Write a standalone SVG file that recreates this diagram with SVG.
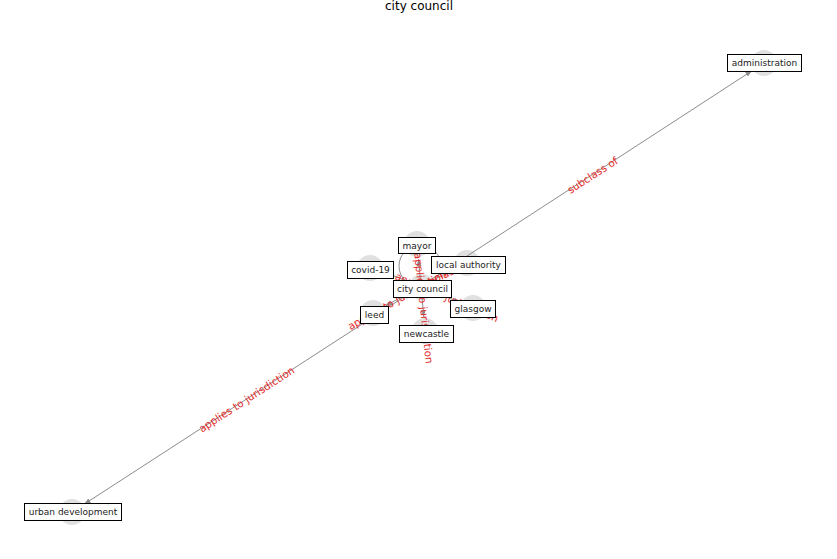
<svg xmlns="http://www.w3.org/2000/svg" width="837" height="559" viewBox="0 0 837 559">
  <style>
    .edge { stroke: #8c8c8c; stroke-width: 1; fill: none; }
    .elabel { font-family: "DejaVu Sans", sans-serif; font-size: 10.4px; fill: #e32b2b; text-anchor: middle; dominant-baseline: central; }
    .dot { fill: #e0e0e0; }
    .box { fill: #ffffff; stroke: #000000; stroke-width: 1; }
    .nlabel { font-family: "DejaVu Sans", sans-serif; font-size: 9px; fill: #222222; text-anchor: middle; dominant-baseline: central; }
    .title { font-family: "DejaVu Sans", sans-serif; font-size: 12px; fill: #000000; text-anchor: middle; }
  </style>
  <defs>
    <marker id="arrow" markerUnits="userSpaceOnUse" markerWidth="8" markerHeight="6" refX="7" refY="3" orient="auto">
      <path d="M0,0.5 L7,3 L0,5.5 z" fill="#8c8c8c"/>
    </marker>
  </defs>

  <rect width="837" height="559" fill="#ffffff"/>
  <text class="title" x="419" y="10">city council</text>

  <!-- node markers -->
  <g id="node-dots">
    <circle class="dot" cx="764" cy="63" r="13"/>
    <circle class="dot" cx="72" cy="512" r="13"/>
    <circle class="dot" cx="422" cy="287" r="13"/>
    <circle class="dot" cx="417" cy="244" r="13"/>
    <circle class="dot" cx="467" cy="263" r="13"/>
    <circle class="dot" cx="370" cy="268" r="13"/>
    <circle class="dot" cx="373" cy="313" r="13"/>
    <circle class="dot" cx="473" cy="308" r="13"/>
    <circle class="dot" cx="425" cy="331" r="13"/>
  </g>

  <!-- connectors -->
  <g id="edges">
    <line class="edge" x1="421" y1="286" x2="752.3" y2="70.6" marker-end="url(#arrow)"/>
    <line class="edge" x1="421" y1="286" x2="83.8" y2="504.4" marker-end="url(#arrow)"/>
    <line class="edge" x1="421" y1="286" x2="385.2" y2="306.1" marker-end="url(#arrow)"/>
    <line class="edge" x1="421" y1="286" x2="423.8" y2="317.1" marker-end="url(#arrow)"/>
    <line class="edge" x1="421" y1="286" x2="460.1" y2="302.6" marker-end="url(#arrow)"/>
    <line class="edge" x1="421" y1="286" x2="454.5" y2="269.3" marker-end="url(#arrow)"/>
    <line class="edge" x1="421" y1="286" x2="383.1" y2="271.9" marker-end="url(#arrow)"/>
    <line class="edge" x1="421" y1="286" x2="418.4" y2="259.1" marker-end="url(#arrow)"/>
    <circle class="edge" cx="420" cy="266" r="21"/>

    <text class="elabel" transform="translate(592.5 175) rotate(-33)">subclass of</text>
    <text class="elabel" transform="translate(246.5 399) rotate(-33)">applies to jurisdiction</text>
    <text class="elabel" transform="translate(397 299.5) rotate(-29.4)">applies to jurisdiction</text>
    <text class="elabel" transform="translate(424 308) rotate(84)">applies to jurisdiction</text>
    <text class="elabel" transform="translate(447 297) rotate(23)">applies to jurisdiction</text>
    <text class="elabel" transform="translate(444 274.5) rotate(-26.6)">subclass of</text>
  </g>

  <g id="node-administration">
    <rect class="box" x="727.5" y="54.5" width="74" height="17"/>
    <text class="nlabel" x="764.5" y="63">administration</text>
  </g>
  <g id="node-urban-development">
    <rect class="box" x="24.5" y="503.5" width="97" height="17"/>
    <text class="nlabel" x="73" y="512">urban development</text>
  </g>
  <g id="node-mayor">
    <rect class="box" x="398.5" y="237.5" width="37" height="16"/>
    <text class="nlabel" x="417" y="245.5">mayor</text>
  </g>
  <g id="node-local-authority">
    <rect class="box" x="431.5" y="256.5" width="74" height="17"/>
    <text class="nlabel" x="468.5" y="265">local authority</text>
  </g>
  <g id="node-covid-19">
    <rect class="box" x="347.5" y="261.5" width="46" height="17"/>
    <text class="nlabel" x="370.5" y="270">covid-19</text>
  </g>
  <g id="node-city-council">
    <rect class="box" x="393.5" y="280.5" width="58" height="17"/>
    <text class="nlabel" x="422.5" y="289">city council</text>
  </g>
  <g id="node-leed">
    <rect class="box" x="360.5" y="306.5" width="28" height="17"/>
    <text class="nlabel" x="374.5" y="315">leed</text>
  </g>
  <g id="node-glasgow">
    <rect class="box" x="450.5" y="300.5" width="45" height="17"/>
    <text class="nlabel" x="473" y="309">glasgow</text>
  </g>
  <g id="node-newcastle">
    <rect class="box" x="399.5" y="325.5" width="54" height="17"/>
    <text class="nlabel" x="426.5" y="334">newcastle</text>
  </g>
</svg>
